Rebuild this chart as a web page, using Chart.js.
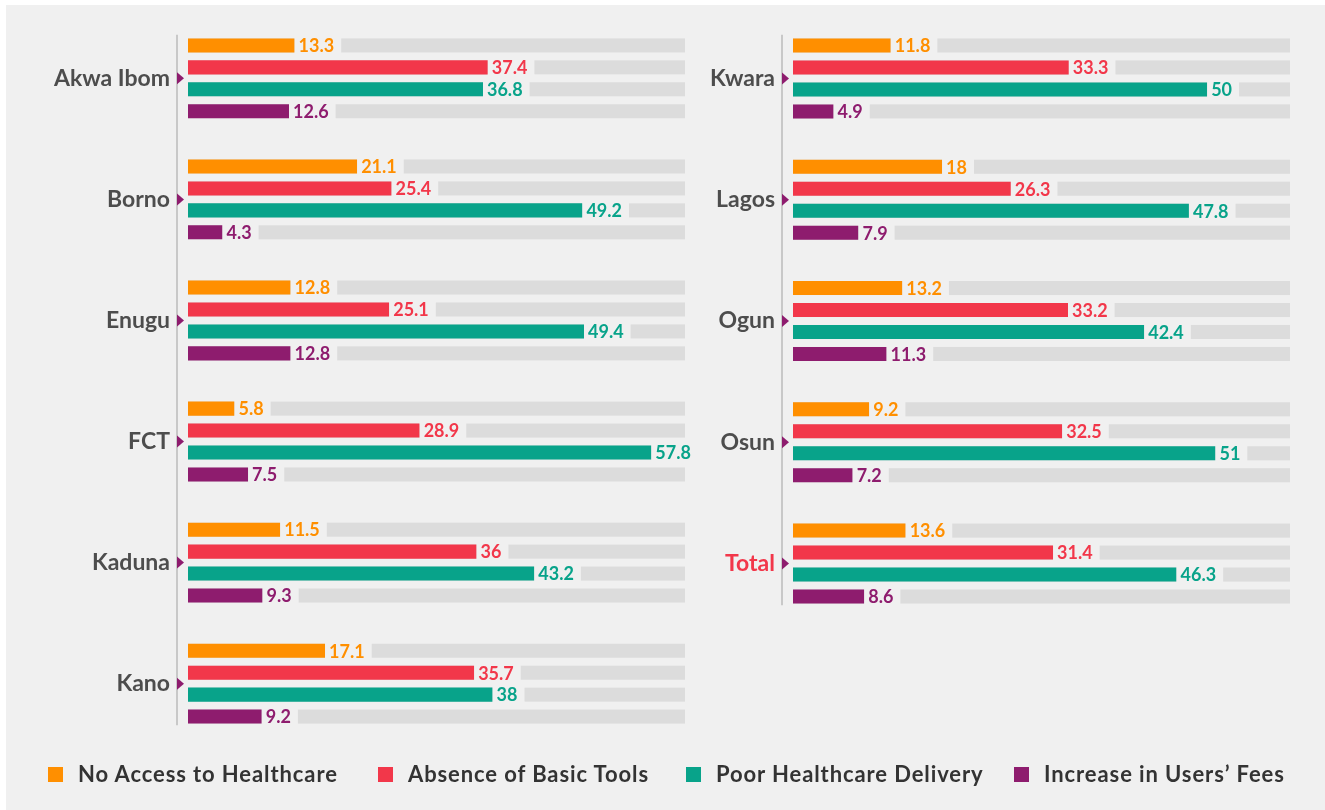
<!DOCTYPE html>
<html>
<head>
<meta charset="utf-8">
<script src="https://cdn.jsdelivr.net/npm/chart.js@4.4.1/dist/chart.umd.min.js"></script>
<style>
  html, body { margin: 0; padding: 0; background: #fff; }
  #frame { position: absolute; left: 6px; top: 5px; width: 1319px; height: 805px; background: #f0f0f0; }
  .wrap { position: absolute; }
  #legend { position: absolute; left: 0; top: 760px; width: 1325px; height: 30px;
            font-family: Lato, "Open Sans", sans-serif; font-weight: 700; font-size: 22px; color: #333; letter-spacing: 0.9px; }
  .item { position: absolute; top: 0; white-space: nowrap; line-height: 28px; }
  .sw { display: inline-block; width: 15px; height: 15px; margin-right: 15px; vertical-align: 0px; }
</style>
</head>
<body>
<div id="frame"></div>
<div class="wrap" style="left:0;top:-6px;width:760px;height:774px"><canvas id="left"></canvas></div>
<div class="wrap" style="left:700px;top:-6px;width:620px;height:654px"><canvas id="right"></canvas></div>
<div id="legend"></div>
<script>
// data
const seriesNames = ["No Access to Healthcare", "Absence of Basic Tools", "Poor Healthcare Delivery", "Increase in Users\u2019 Fees"];
const colors = ["#ff8f00", "#f2374a", "#08a38a", "#8e1c6e"];

const leftStates = ["Akwa Ibom", "Borno", "Enugu", "FCT", "Kaduna", "Kano"];
const leftNoAccess = [13.3, 21.1, 12.8, 5.8, 11.5, 17.1];
const leftNoTools  = [37.4, 25.4, 25.1, 28.9, 36, 35.7];
const leftPoorCare = [36.8, 49.2, 49.4, 57.8, 43.2, 38];
const leftFees     = [12.6, 4.3, 12.8, 7.5, 9.3, 9.2];

const rightStates = ["Kwara", "Lagos", "Ogun", "Osun", "Total"];
const rightNoAccess = [11.8, 18, 13.2, 9.2, 13.6];
const rightNoTools  = [33.3, 26.3, 33.2, 32.5, 31.4];
const rightPoorCare = [50, 47.8, 42.4, 51, 46.3];
const rightFees     = [4.9, 7.9, 11.3, 7.2, 8.6];

const BG = "#f0f0f0";
const TRACK = "#dcdcdc";
const FONT = 'Lato, "Open Sans", sans-serif';

// gray tracks behind bars, value labels, axis line and pointers
const decor = {
  id: "decor",
  beforeDatasetsDraw(chart) {
    const ctx = chart.ctx, x = chart.scales.x;
    ctx.save();
    ctx.fillStyle = TRACK;
    chart.data.datasets.forEach((ds, i) => {
      chart.getDatasetMeta(i).data.forEach(bar => {
        const x0 = x.getPixelForValue(0), x1 = x.getPixelForValue(x.max);
        ctx.fillRect(x0, bar.y - bar.height / 2, x1 - x0, bar.height);
      });
    });
    ctx.restore();
  },
  afterDatasetsDraw(chart) {
    const ctx = chart.ctx, y = chart.scales.y, area = chart.chartArea;
    ctx.save();
    ctx.font = "700 18px " + FONT;
    ctx.textBaseline = "middle";
    chart.data.datasets.forEach((ds, i) => {
      chart.getDatasetMeta(i).data.forEach((bar, j) => {
        const txt = String(ds.data[j]);
        const w = ctx.measureText(txt).width;
        ctx.fillStyle = BG;
        ctx.fillRect(bar.x, bar.y - bar.height / 2 - 1, w + 11, bar.height + 2);
        ctx.fillStyle = ds.backgroundColor;
        ctx.fillText(txt, bar.x + 4, bar.y + 1);
      });
    });
    // axis line
    const lx = area.left - 11;
    ctx.strokeStyle = "#c8c8c8";
    ctx.lineWidth = 2;
    ctx.beginPath();
    ctx.moveTo(lx, area.top + 17);
    ctx.lineTo(lx, area.bottom - 19);
    ctx.stroke();
    // pointers
    ctx.fillStyle = "#8e1c6e";
    chart.data.labels.forEach((l, k) => {
      const cy = y.getPixelForValue(k);
      ctx.beginPath();
      ctx.moveTo(lx, cy - 6);
      ctx.lineTo(lx + 7, cy);
      ctx.lineTo(lx, cy + 6);
      ctx.closePath();
      ctx.fill();
    });
    ctx.restore();
  }
};

function makeChart(id, labels, a, b, c, d, maxVal, axisWidth) {
  const sets = [a, b, c, d].map((vals, i) => ({
    label: seriesNames[i],
    data: vals,
    backgroundColor: colors[i],
    categoryPercentage: 0.725,
    barPercentage: 0.64
  }));
  return new Chart(document.getElementById(id), {
    type: "bar",
    data: { labels: labels, datasets: sets },
    options: {
      indexAxis: "y",
      responsive: true,
      maintainAspectRatio: false,
      animation: false,
      layout: { padding: { top: 3, right: id === "left" ? 75 : 30, bottom: 0, left: 0 } },
      plugins: { legend: { display: false }, tooltip: { enabled: false } },
      scales: {
        x: { display: false, min: 0, max: maxVal },
        y: {
          grid: { display: false },
          border: { display: false },
          afterFit: s => { s.width = axisWidth; },
          ticks: {
            padding: 10,
            font: { family: FONT, weight: "700", size: 23 },
            color: ctx => ctx.tick && ctx.tick.label === "Total" ? "#f2374a" : "#4d4d4d"
          }
        }
      }
    },
    plugins: [decor]
  });
}

makeChart("left", leftStates, leftNoAccess, leftNoTools, leftPoorCare, leftFees, 62, 188);
makeChart("right", rightStates, rightNoAccess, rightNoTools, rightPoorCare, rightFees, 60, 93);

// legend
const legendX = [48, 378, 686, 1014];
const legend = document.getElementById("legend");
seriesNames.forEach((name, i) => {
  const el = document.createElement("div");
  el.className = "item";
  el.style.left = legendX[i] + "px";
  el.innerHTML = '<span class="sw" style="background:' + colors[i] + '"></span>' + name;
  legend.appendChild(el);
});
</script>
</body>
</html>
